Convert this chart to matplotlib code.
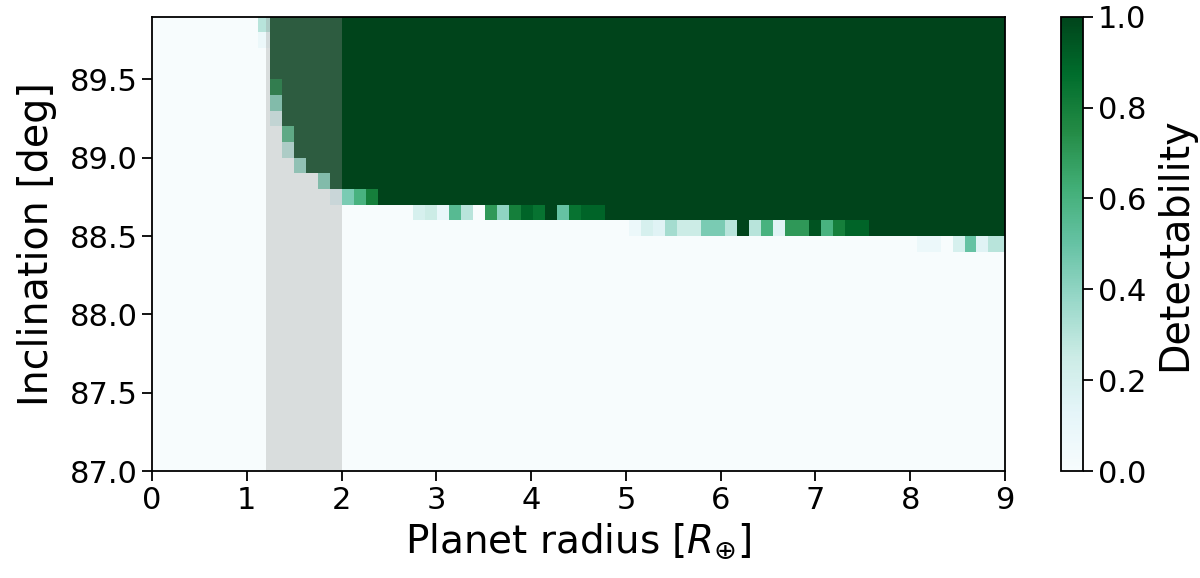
import numpy as np
import matplotlib
matplotlib.use("Agg")
import matplotlib.pyplot as plt

# ---- grid ----
r_step = 0.1264
radius_edges = 2.0 + r_step * np.arange(-16, 57)        # 72 radius cells
inc_edges = np.round(87.0 + 0.1 * np.arange(30), 1)      # 29 inclination cells

# inclination (lower edge) from which each radius column is fully detectable
full_det_from = ([89.9] * 10
                 + [89.5, 89.2, 89.0, 88.9, 88.9, 88.8, 88.8, 88.8, 88.8]
                 + [88.7] * 19
                 + [88.6] * 22
                 + [88.5] * 12)

# transitional cells: (lower inclination of row, first radius column, values)
det_89p8 = (89.8, 9, [0.30])
det_89p7 = (89.7, 9, [0.08])
det_89p4 = (89.4, 10, [0.85])
det_89p3 = (89.3, 10, [0.45])
det_89p2 = (89.2, 10, [0.20])
det_89p1 = (89.1, 11, [0.60])
det_89p0 = (89.0, 11, [0.30])
det_88p9 = (88.9, 12, [0.40])
det_88p8 = (88.8, 14, [0.45])
det_88p7 = (88.7, 15, [0.15, 0.45, 0.60, 0.80])
det_88p6 = (88.6, 22, [0.20, 0.25, 0.10, 0.55, 0.30, 0.00, 0.70, 0.40,
                       0.80, 0.90, 0.85, 1.00, 0.50, 0.85, 0.90, 0.90])
det_88p5 = (88.5, 40, [0.08, 0.20, 0.15, 0.35, 0.25, 0.25, 0.45, 0.45, 0.30, 1.00,
                       0.30, 0.60, 0.15, 0.70, 0.70, 0.95, 0.60, 0.80, 0.90, 0.90])
det_88p4 = (88.4, 64, [0.08, 0.08, 0.00, 0.20, 0.50, 0.15, 0.30, 0.30])

transitions = [det_89p8, det_89p7, det_89p4, det_89p3, det_89p2, det_89p1, det_89p0,
               det_88p9, det_88p8, det_88p7, det_88p6, det_88p5, det_88p4]

n_rows = len(inc_edges) - 1
n_cols = len(radius_edges) - 1
row_low = inc_edges[:-1]
Z = np.zeros((n_rows, n_cols))
for c, lim in enumerate(full_det_from):
    Z[row_low >= lim - 1e-6, c] = 1.0
for inc, c0, vals in transitions:
    r = int(np.argmin(np.abs(row_low - inc)))
    Z[r, c0:c0 + len(vals)] = vals

# ---- figure ----
fig = plt.figure(figsize=(12, 5.78), dpi=100)
ax = fig.add_axes([0.1267, 0.1851, 0.7108, 0.786])
cax = fig.add_axes([0.8842, 0.1851, 0.0185, 0.786])

mesh = ax.pcolormesh(radius_edges, inc_edges, Z, cmap="BuGn", vmin=0, vmax=1,
                     shading="flat", rasterized=True)
ax.axvspan(1.2, 2.0, color="#969696", alpha=0.3, lw=0, zorder=2)

ax.set_xlim(0, 9)
ax.set_ylim(87.0, 89.9)
ax.set_xticks(range(0, 10))
ax.set_yticks([87.0, 87.5, 88.0, 88.5, 89.0, 89.5])
ax.set_yticklabels(["87.0", "87.5", "88.0", "88.5", "89.0", "89.5"])
ax.tick_params(labelsize=22, length=7, width=1.3)
ax.set_xlabel(r"Planet radius [$R_{\oplus}$]", fontsize=28, labelpad=5)
ax.set_ylabel("Inclination [deg]", fontsize=28.5, labelpad=9)
for s in ax.spines.values():
    s.set_linewidth(1.3)

cb = fig.colorbar(mesh, cax=cax)
cb.set_ticks([0.0, 0.2, 0.4, 0.6, 0.8, 1.0])
cb.ax.tick_params(labelsize=22, length=7, width=1.3)
cb.set_label("Detectability", fontsize=28.5, labelpad=6)
cb.outline.set_linewidth(1.3)

fig.savefig("out.png", dpi=100)
